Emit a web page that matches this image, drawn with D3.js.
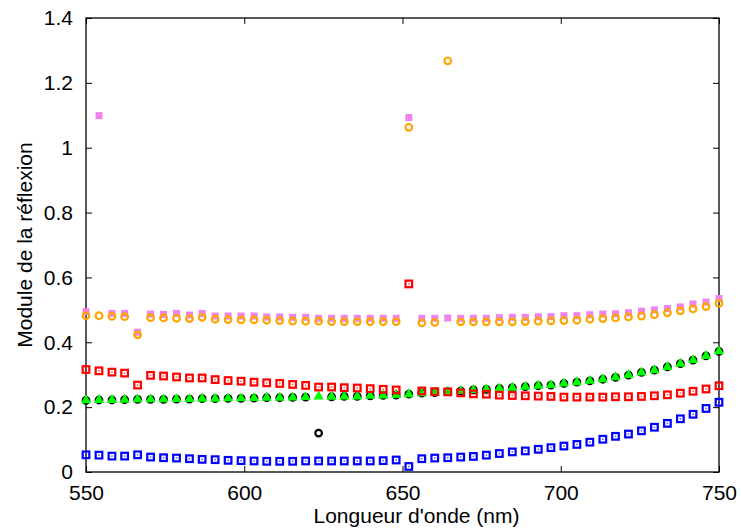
<!DOCTYPE html>
<html>
<head>
<meta charset="utf-8">
<script src="https://cdn.jsdelivr.net/npm/d3@7"></script>
<style>
  body { margin: 0; background: #fff; }
  svg text { font-family: "Liberation Sans", Arial, sans-serif; fill: #000; }
</style>
</head>
<body>
<svg id="chart"></svg>
<script>
// longueurs d'onde (nm)
const wavelengths = [550.0, 554.1, 558.2, 562.2, 566.3, 570.4, 574.5, 578.6, 582.7, 586.7,
    590.8, 594.9, 599.0, 603.1, 607.1, 611.2, 615.3, 619.4, 623.5, 627.6,
    631.6, 635.7, 639.8, 643.9, 648.0, 652.0, 656.1, 660.2, 664.3, 668.4,
    672.4, 676.5, 680.6, 684.7, 688.8, 692.9, 696.9, 701.0, 705.1, 709.2,
    713.3, 717.3, 721.4, 725.5, 729.6, 733.7, 737.8, 741.8, 745.9, 750.0];

const violetVals = [0.494, 1.099, 0.489, 0.489, 0.431, 0.487, 0.486, 0.489, 0.484, 0.489,
    0.481, 0.481, 0.481, 0.481, 0.478, 0.478, 0.477, 0.477, 0.474, 0.474,
    0.474, 0.474, 0.474, 0.474, 0.474, 1.093, 0.474, 0.474, 0.475, 0.474,
    0.474, 0.474, 0.476, 0.477, 0.477, 0.479, 0.479, 0.482, 0.482, 0.485,
    0.487, 0.488, 0.491, 0.496, 0.500, 0.504, 0.509, 0.518, 0.524, 0.535];

const orangeVals = [0.482, 0.482, 0.480, 0.479, 0.423, 0.476, 0.475, 0.474, 0.473, 0.477,
    0.471, 0.470, 0.469, 0.469, 0.468, 0.467, 0.465, 0.465, 0.465, 0.464,
    0.464, 0.464, 0.464, 0.464, 0.464, 1.063, 0.460, 0.461, 1.268, 0.463,
    0.463, 0.463, 0.463, 0.463, 0.464, 0.465, 0.466, 0.467, 0.468, 0.471,
    0.473, 0.475, 0.478, 0.481, 0.485, 0.491, 0.497, 0.503, 0.510, 0.520];

const redVals = [0.316, 0.312, 0.308, 0.305, 0.268, 0.298, 0.296, 0.293, 0.290, 0.290,
    0.285, 0.282, 0.280, 0.277, 0.275, 0.273, 0.270, 0.267, 0.262, 0.262,
    0.260, 0.259, 0.257, 0.255, 0.253, 0.580, 0.250, 0.248, 0.247, 0.244,
    0.241, 0.240, 0.237, 0.236, 0.235, 0.234, 0.233, 0.231, 0.231, 0.231,
    0.231, 0.232, 0.232, 0.233, 0.235, 0.238, 0.243, 0.249, 0.256, 0.266];

const blackVals = [0.221, 0.222, 0.222, 0.223, 0.224, 0.224, 0.224, 0.225, 0.225, 0.226,
    0.226, 0.227, 0.227, 0.228, 0.229, 0.229, 0.230, 0.231, 0.120, 0.232,
    0.233, 0.233, 0.235, 0.236, 0.237, 0.240, 0.243, 0.245, 0.248, 0.250,
    0.253, 0.255, 0.258, 0.260, 0.263, 0.266, 0.268, 0.273, 0.277, 0.281,
    0.286, 0.292, 0.299, 0.307, 0.314, 0.324, 0.334, 0.345, 0.358, 0.372];

const greenVals = [0.221, 0.222, 0.222, 0.223, 0.224, 0.224, 0.224, 0.225, 0.225, 0.226,
    0.226, 0.227, 0.227, 0.228, 0.229, 0.229, 0.230, 0.231, 0.233, 0.232,
    0.233, 0.233, 0.235, 0.236, 0.237, 0.240, 0.243, 0.245, 0.248, 0.250,
    0.253, 0.255, 0.258, 0.260, 0.263, 0.266, 0.268, 0.273, 0.277, 0.281,
    0.286, 0.292, 0.299, 0.307, 0.314, 0.324, 0.334, 0.345, 0.358, 0.372];

const blueVals = [0.053, 0.052, 0.049, 0.049, 0.053, 0.046, 0.044, 0.043, 0.041, 0.039,
    0.038, 0.036, 0.035, 0.034, 0.033, 0.033, 0.033, 0.034, 0.034, 0.034,
    0.034, 0.034, 0.034, 0.035, 0.037, 0.017, 0.041, 0.043, 0.044, 0.046,
    0.048, 0.052, 0.057, 0.062, 0.065, 0.070, 0.075, 0.080, 0.085, 0.092,
    0.101, 0.110, 0.117, 0.127, 0.138, 0.150, 0.164, 0.178, 0.196, 0.215];

const xTicks = [550, 600, 650, 700, 750];
const yTicks = [0, 0.2, 0.4, 0.6, 0.8, 1, 1.2, 1.4];

const width = 741, height = 529;
const margin = {top: 18, right: 22, bottom: 57, left: 86};

const svg = d3.select("#chart")
    .attr("width", width)
    .attr("height", height);

const x = d3.scaleLinear().domain([550, 750]).range([margin.left, width - margin.right]);
const y = d3.scaleLinear().domain([0, 1.4]).range([height - margin.bottom, margin.top]);

// axes (ticks vers l'intérieur, comme gnuplot)
const fmt = d => String(d);
svg.append("g")
    .attr("transform", `translate(0,${y(0)})`)
    .call(d3.axisBottom(x).tickValues(xTicks).tickFormat(fmt).tickSizeInner(-6).tickSizeOuter(0).tickPadding(13))
    .call(g => g.select(".domain").remove())
    .call(g => g.selectAll("text").attr("font-size", 21).attr("font-family", null));
svg.append("g")
    .attr("transform", `translate(${x(550)},0)`)
    .call(d3.axisLeft(y).tickValues(yTicks).tickFormat(fmt).tickSizeInner(-6).tickSizeOuter(0).tickPadding(13))
    .call(g => g.select(".domain").remove())
    .call(g => g.selectAll("text").attr("font-size", 21).attr("font-family", null));
svg.append("g")
    .attr("transform", `translate(0,${y(1.4)})`)
    .call(d3.axisTop(x).tickValues(xTicks).tickFormat("").tickSizeInner(-6).tickSizeOuter(0))
    .call(g => g.select(".domain").remove());
svg.append("g")
    .attr("transform", `translate(${x(750)},0)`)
    .call(d3.axisRight(y).tickValues(yTicks).tickFormat("").tickSizeInner(-6).tickSizeOuter(0))
    .call(g => g.select(".domain").remove());

svg.append("rect")
    .attr("x", x(550)).attr("y", y(1.4))
    .attr("width", x(750) - x(550)).attr("height", y(0) - y(1.4))
    .attr("fill", "none").attr("stroke", "#000").attr("stroke-width", 1.3);

// titres
svg.append("text")
    .attr("x", (x(550) + x(750)) / 2 + 14)
    .attr("y", 523)
    .attr("text-anchor", "middle")
    .attr("font-size", 21)
    .text("Longueur d'onde (nm)");
svg.append("text")
    .attr("transform", `translate(32, ${(y(0) + y(1.4)) / 2}) rotate(-90)`)
    .attr("text-anchor", "middle")
    .attr("font-size", 21)
    .text("Module de la réflexion");

const plot = svg.append("g");
const pts = vals => vals.map((v, i) => ({x: wavelengths[i], y: v}));

// carrés pleins violets
plot.append("g").selectAll("rect").data(pts(violetVals)).enter().append("rect")
    .attr("x", d => x(d.x) - 3.5).attr("y", d => y(d.y) - 3.5)
    .attr("width", 7).attr("height", 7)
    .attr("fill", "violet");

// cercles orange
plot.append("g").selectAll("circle").data(pts(orangeVals)).enter().append("circle")
    .attr("cx", d => x(d.x)).attr("cy", d => y(d.y)).attr("r", 3.3)
    .attr("fill", "none").attr("stroke", "orange").attr("stroke-width", 2.2);

// cercles noirs
plot.append("g").selectAll("circle").data(pts(blackVals)).enter().append("circle")
    .attr("cx", d => x(d.x)).attr("cy", d => y(d.y)).attr("r", 3.3)
    .attr("fill", "none").attr("stroke", "#000").attr("stroke-width", 2.2);

// triangles verts
const tri = d3.symbol().type(d3.symbolTriangle).size(46);
plot.append("g").selectAll("path").data(pts(greenVals)).enter().append("path")
    .attr("transform", d => `translate(${x(d.x)},${y(d.y)})`)
    .attr("d", tri)
    .attr("fill", "#00ff00");

// carrés ouverts rouges et bleus
[[redVals, "red"], [blueVals, "blue"]].forEach(([vals, color]) => {
    const g = plot.append("g");
    g.selectAll("rect.box").data(pts(vals)).enter().append("rect")
        .attr("class", "box")
        .attr("x", d => x(d.x) - 3.3).attr("y", d => y(d.y) - 3.3)
        .attr("width", 6.6).attr("height", 6.6)
        .attr("fill", "none").attr("stroke", color).attr("stroke-width", 2.2);
    g.selectAll("rect.dot").data(pts(vals)).enter().append("rect")
        .attr("class", "dot")
        .attr("x", d => x(d.x) - 0.8).attr("y", d => y(d.y) - 0.8)
        .attr("width", 1.6).attr("height", 1.6)
        .attr("fill", color).attr("opacity", 0.6);
});
</script>
</body>
</html>
